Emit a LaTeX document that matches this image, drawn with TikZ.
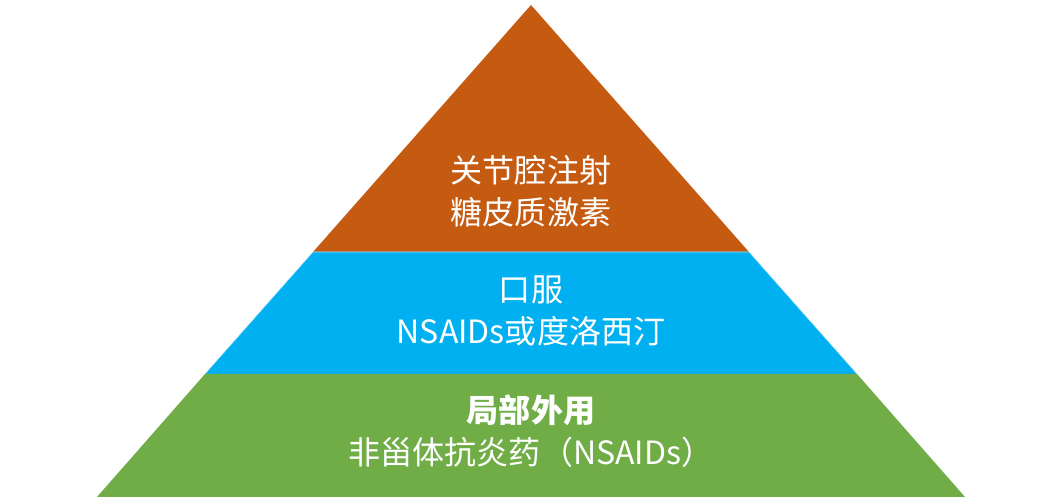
\documentclass[tikz,border=0pt]{standalone}
\usepackage{fontspec}
\setmainfont{Noto Sans CJK SC}
\usepackage{xcolor}
\usepackage{tikz}

\definecolor{tipOrange}{HTML}{C55A11}
\definecolor{midBlue}{HTML}{00B0F0}
\definecolor{baseGreen}{HTML}{70AD47}

\begin{document}
\begin{tikzpicture}[x=0.025cm, y=-0.025cm,
    layertext/.style={white, align=center, font=\fontsize{22.8}{30}\selectfont}]
        \useasboundingbox (0,0) rectangle (1052,503);

        % Top layer (orange)
        \fill[tipOrange] (531,5) -- (749,252) -- (313,252) -- cycle;
        \node[layertext] (inject) at (531,191) {关节腔注射\\糖皮质激素};

        % Middle layer (blue)
        \fill[midBlue] (313,252) -- (749,252) -- (857,374) -- (205,374) -- cycle;
        \draw[cyan!35, thin] (205,374) -- (313,252) -- (749,252) -- (857,374);
        \node[layertext] (oral) at (531,311) {口服\\NSAIDs或度洛西汀};

        % Bottom layer (green)
        \fill[baseGreen] (205,374) -- (857,374) -- (965,497) -- (97,497) -- cycle;
        \node[layertext] (topical) at (531,431) {\textbf{局部外用}\\非甾体抗炎药（NSAIDs）};
    \end{tikzpicture}
\end{document}
